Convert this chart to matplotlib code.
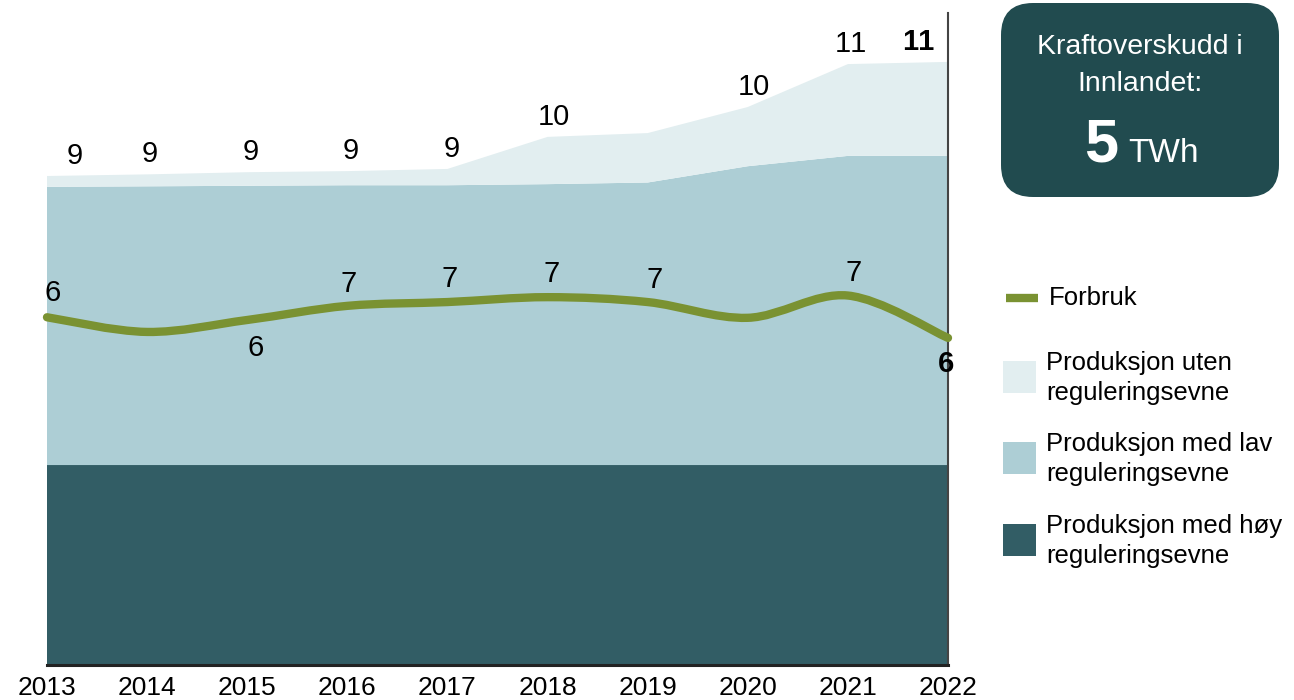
import numpy as np
import matplotlib
matplotlib.use("Agg")
import matplotlib.pyplot as plt
from matplotlib.path import Path
from matplotlib.patches import PathPatch, FancyBboxPatch, Rectangle
from matplotlib.lines import Line2D

plt.rcParams['font.family'] = ['Liberation Sans', 'DejaVu Sans']
plt.rcParams['text.kerning_factor'] = 10  # nesten ingen kerning, som i originalen

# Data (TWh)
years = [2013, 2014, 2015, 2016, 2017, 2018, 2019, 2020, 2021, 2022]
prod_hoy = [3.68, 3.68, 3.68, 3.68, 3.68, 3.68, 3.68, 3.68, 3.68, 3.68]
prod_lav = [5.12, 5.13, 5.14, 5.15, 5.15, 5.17, 5.20, 5.50, 5.69, 5.69]
prod_uten = [0.20, 0.22, 0.25, 0.26, 0.30, 0.87, 0.91, 1.09, 1.69, 1.73]
forbruk = [6.40, 6.13, 6.35, 6.61, 6.68, 6.77, 6.68, 6.39, 6.80, 6.02]

total_labels = ["9", "9", "9", "9", "9", "10", None, "10", "11", "11"]
forbruk_labels = ["6", None, "6", "7", "7", "7", "7", None, "7", "6"]
year_labels = [str(y) for y in years]

c_hoy = "#325D65"
c_lav = "#ADCED5"
c_uten = "#E2EEF0"
c_line = "#7A9232"
c_box = "#214B4F"

fig = plt.figure(figsize=(12.94, 7), dpi=100)
ax = fig.add_axes([47 / 1294, 35 / 700, 901 / 1294, 652 / 700])

ax.stackplot(years, prod_hoy, prod_lav, prod_uten,
             colors=[c_hoy, c_lav, c_uten], linewidth=0)

# glatt forbrukslinje (kubisk bezier gjennom punktene)
x = np.array(years, dtype=float)
y = np.array(forbruk)
verts = [(x[0], y[0])]
codes = [Path.MOVETO]
for i in range(len(x) - 1):
    p0 = (x[i - 1], y[i - 1]) if i > 0 else (x[i], y[i])
    p3 = (x[i + 2], y[i + 2]) if i + 2 < len(x) else (x[i + 1], y[i + 1])
    c1 = (x[i] + (x[i + 1] - p0[0]) / 6, y[i] + (y[i + 1] - p0[1]) / 6)
    c2 = (x[i + 1] - (p3[0] - x[i]) / 6, y[i + 1] - (p3[1] - y[i]) / 6)
    verts += [c1, c2, (x[i + 1], y[i + 1])]
    codes += [Path.CURVE4] * 3
ax.add_patch(PathPatch(Path(verts, codes), fill=False, edgecolor=c_line,
                       linewidth=6, capstyle='round', joinstyle='round',
                       zorder=3, clip_on=False))

ax.set_xlim(2013, 2022)
ax.set_ylim(0, 12)
ax.set_xticks(years)
ax.set_xticklabels(year_labels, fontsize=19)
ax.tick_params(axis='x', length=0, pad=8)
ax.set_yticks([])
for s in ['left', 'top']:
    ax.spines[s].set_visible(False)
ax.spines['right'].set_color('#444444')
ax.spines['right'].set_linewidth(1.5)
ax.spines['bottom'].set_color('#222222')
ax.spines['bottom'].set_linewidth(2.2)
ax.patch.set_alpha(0)

totals = np.array(prod_hoy) + np.array(prod_lav) + np.array(prod_uten)
tot_dx = [28, 3, 3, 3, 4, 6, 0, 6, 3, -30]
for i, lab in enumerate(total_labels):
    if lab is None:
        continue
    ax.annotate(lab, (years[i], totals[i]), xytext=(tot_dx[i], 20),
                textcoords='offset pixels', ha='center', va='center',
                fontsize=21, fontweight='bold' if i == len(years) - 1 else 'normal')

f_off = [(6, 24), None, (8, -28), (1, 22), (2, 23), (4, 23), (7, 22), None, (6, 23), (-2, -26)]
for i, lab in enumerate(forbruk_labels):
    if lab is None:
        continue
    ax.annotate(lab, (years[i], forbruk[i]), xytext=f_off[i],
                textcoords='offset pixels', ha='center', va='center',
                fontsize=21, fontweight='bold' if i == len(years) - 1 else 'normal',
                zorder=5)

# infoboks
W, H = 1294, 700
box = FancyBboxPatch((1001 / 100, (H - 197) / 100), 278 / 100, 194 / 100,
                     boxstyle="round,pad=0,rounding_size=0.32",
                     transform=fig.dpi_scale_trans, facecolor=c_box,
                     edgecolor='none')
fig.patches.append(box)
fig.text(1140 / W, 1 - 47 / H, "Kraftoverskudd i", color='white',
         ha='center', va='center', fontsize=20.5)
fig.text(1140 / W, 1 - 84 / H, "Innlandet:", color='white',
         ha='center', va='center', fontsize=20.5)
fig.text(1118 / W, 1 - 162 / H, "5", color='white', ha='right', va='baseline',
         fontsize=44, fontweight='bold')
fig.text(1128 / W, 1 - 162 / H, "TWh", color='white', ha='left', va='baseline',
         fontsize=24)

# tegnforklaring
fig.lines.append(Line2D([1006 / W, 1038 / W], [1 - 298 / H] * 2, color=c_line,
                        linewidth=6, solid_capstyle='butt',
                        transform=fig.transFigure))
fig.text(1049 / W, 1 - 298 / H, "Forbruk", ha='left', va='center', fontsize=18.5)
leg_items = [(c_uten, 377, "Produksjon uten\nreguleringsevne"),
             (c_lav, 458, "Produksjon med lav\nreguleringsevne"),
             (c_hoy, 540, "Produksjon med høy\nreguleringsevne")]
for col, yc, txt in leg_items:
    fig.patches.append(Rectangle((1003 / W, 1 - (yc + 16) / H), 33 / W, 32 / H,
                                 facecolor=col, edgecolor='none',
                                 transform=fig.transFigure))
    fig.text(1046 / W, 1 - (yc + 1) / H, txt, ha='left', va='center',
             fontsize=18.5, linespacing=1.32)

fig.savefig("out.png", dpi=100)
